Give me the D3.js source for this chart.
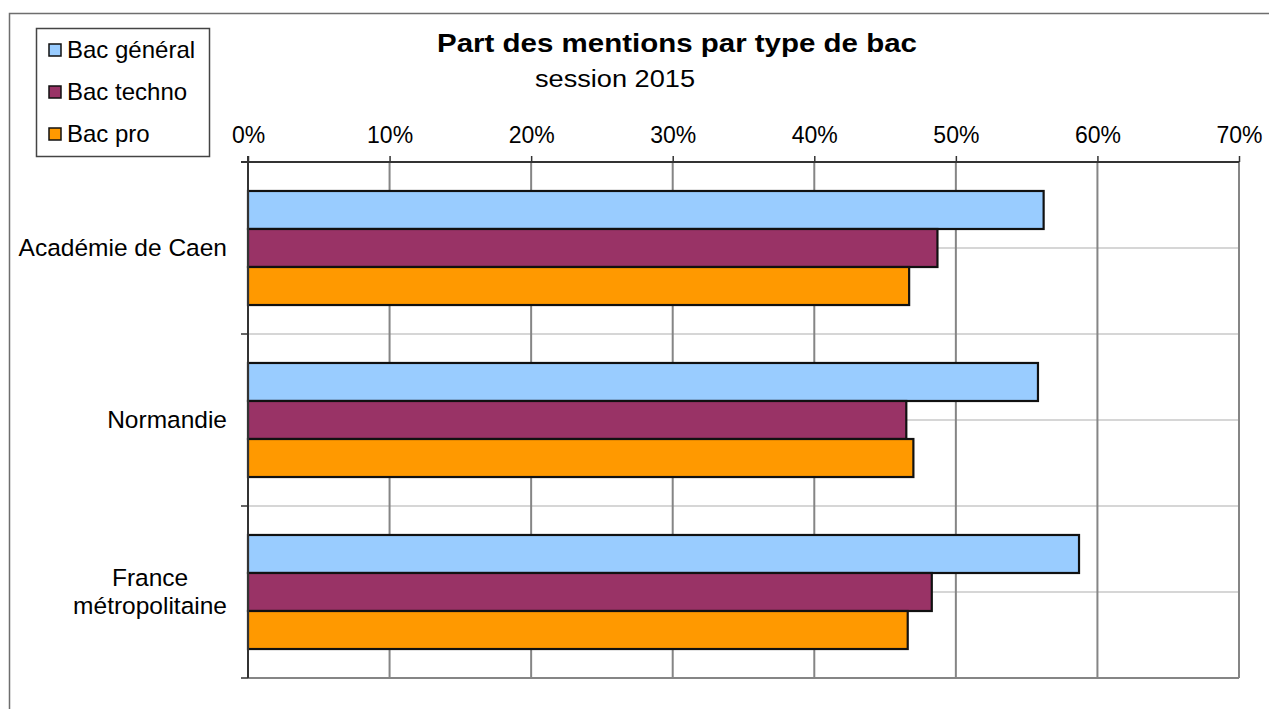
<!DOCTYPE html>
<html>
<head>
<meta charset="utf-8">
<script src="https://cdn.jsdelivr.net/npm/d3@7"></script>
<style>
  body { margin: 0; background: #fff; }
  svg { display: block; font-family: Arial, 'Liberation Sans', sans-serif; }
</style>
</head>
<body>
<div id="chart"></div>
<script>
const categories = ['Académie de Caen', 'Normandie', 'France\nmétropolitaine'];
const seriesNames = ['Bac général', 'Bac techno', 'Bac pro'];
const seriesColors = ['#99CCFF', '#993366', '#FF9900'];
const bacGeneral = [56.2, 55.8, 58.7];
const bacTechno = [48.7, 46.5, 48.3];
const bacPro = [46.7, 47.0, 46.6];
const tickValues = [0, 10, 20, 30, 40, 50, 60, 70];

const cfg = {
  width: 1269,
  height: 709,
  left: 248,
  top: 162,
  right: 1239,
  bottom: 678,
};

const seriesValues = [bacGeneral, bacTechno, bacPro];
const rows = categories.map((c, i) => ({
  cat: c,
  values: seriesNames.map((s, j) => ({ series: s, value: seriesValues[j][i], color: seriesColors[j] })),
}));

const svg = d3.select('#chart').append('svg')
  .attr('width', cfg.width)
  .attr('height', cfg.height);

svg.append('rect').attr('width', cfg.width).attr('height', cfg.height).attr('fill', '#fff');

// outer chart frame (only top and left are in view)
svg.append('rect')
  .attr('x', 9.5).attr('y', 13.5)
  .attr('width', cfg.width + 20).attr('height', cfg.height + 20)
  .attr('fill', 'none')
  .attr('stroke', '#6e6e6e')
  .attr('stroke-width', 1.5);

const x = d3.scaleLinear().domain([0, 70]).range([cfg.left, cfg.right]);
const y = d3.scaleBand().domain(categories).range([cfg.top, cfg.bottom])
  .paddingInner(0.337).paddingOuter(0.1685);
const yInner = d3.scaleBand().domain(seriesNames).range([0, y.bandwidth()]);

// horizontal light grid lines, every half category
const step = y.step();
const hGrid = d3.range(1, categories.length * 2).map(k => cfg.top + k * step / 2);
svg.append('g').selectAll('line')
  .data(hGrid).enter().append('line')
  .attr('x1', cfg.left).attr('x2', cfg.right)
  .attr('y1', d => d).attr('y2', d => d)
  .style('stroke', '#c8c8c8')
  .style('stroke-width', 1.5);

// vertical grid lines
svg.append('g').selectAll('line')
  .data(tickValues.slice(1)).enter().append('line')
  .attr('x1', d => x(d)).attr('x2', d => x(d))
  .attr('y1', cfg.top).attr('y2', cfg.bottom)
  .style('stroke', '#858585')
  .style('stroke-width', 2);

// bottom border of plot area
svg.append('line')
  .attr('x1', cfg.left).attr('x2', cfg.right)
  .attr('y1', cfg.bottom).attr('y2', cfg.bottom)
  .style('stroke', '#858585')
  .style('stroke-width', 2);

// bars
const groups = svg.append('g').selectAll('g')
  .data(rows).enter().append('g')
  .attr('transform', d => `translate(0,${y(d.cat)})`);

groups.selectAll('rect')
  .data(d => d.values).enter().append('rect')
  .attr('x', x(0))
  .attr('y', d => yInner(d.series))
  .attr('width', d => x(d.value) - x(0))
  .attr('height', yInner.bandwidth())
  .style('fill', d => d.color)
  .style('stroke', '#111')
  .style('stroke-width', 2.2);

// top value axis
const xAxis = d3.axisTop(x)
  .tickValues(tickValues)
  .tickFormat(d => `${d}%`)
  .tickSizeInner(6)
  .tickSizeOuter(0)
  .tickPadding(13);

const gx = svg.append('g')
  .attr('transform', `translate(0,${cfg.top})`)
  .call(xAxis);
gx.select('.domain').remove();
gx.append('line')
  .attr('x1', cfg.left - 7).attr('x2', cfg.right)
  .attr('y1', 0).attr('y2', 0)
  .style('stroke', '#333').style('stroke-width', 2);
gx.selectAll('.tick line').style('stroke', '#333').style('stroke-width', 1.5);
gx.selectAll('.tick text')
  .style('font-size', '23px')
  .style('fill', '#000')
  .style('font-family', 'Arial, Liberation Sans, sans-serif');

// left category axis
svg.append('line')
  .attr('x1', cfg.left).attr('x2', cfg.left)
  .attr('y1', cfg.top - 6).attr('y2', cfg.bottom)
  .style('stroke', '#333').style('stroke-width', 2);

const catTicks = d3.range(0, categories.length + 1).map(k => cfg.top + k * step);
svg.append('g').selectAll('line')
  .data(catTicks).enter().append('line')
  .attr('x1', cfg.left - 7).attr('x2', cfg.left)
  .attr('y1', d => d).attr('y2', d => d)
  .style('stroke', '#333').style('stroke-width', 1.5);

// category labels, block right aligned, lines centred
const labelRight = 227;
const lineH = 28;
svg.append('g').selectAll('text')
  .data(categories).enter().append('text')
  .style('font-size', '24.5px')
  .style('fill', '#000')
  .each(function (d) {
    const lines = d.split('\n');
    const t = d3.select(this);
    const cy = y(d) + y.bandwidth() / 2;
    const y0 = cy - (lines.length - 1) * lineH / 2 + 8;
    lines.forEach((ln, i) => {
      t.append('tspan').attr('y', y0 + i * lineH).text(ln);
    });
    let maxW = 0;
    t.selectAll('tspan').each(function () {
      maxW = Math.max(maxW, this.getComputedTextLength());
    });
    t.attr('text-anchor', 'middle');
    t.selectAll('tspan').attr('x', labelRight - maxW / 2);
  });

// title
svg.append('text')
  .attr('x', 677).attr('y', 52)
  .attr('text-anchor', 'middle')
  .style('font-size', '26px')
  .style('font-weight', 'bold')
  .attr('textLength', 480)
  .attr('lengthAdjust', 'spacingAndGlyphs')
  .text('Part des mentions par type de bac');

svg.append('text')
  .attr('x', 615).attr('y', 87)
  .attr('text-anchor', 'middle')
  .style('font-size', '23px')
  .attr('textLength', 160)
  .attr('lengthAdjust', 'spacingAndGlyphs')
  .text('session 2015');

// legend
const legend = svg.append('g');
legend.append('rect')
  .attr('x', 36.5).attr('y', 28.5)
  .attr('width', 173).attr('height', 128)
  .attr('fill', '#fff')
  .attr('stroke', '#444')
  .attr('stroke-width', 1.5);

const ly = d3.scalePoint().domain(seriesNames).range([50, 134]);
const items = legend.selectAll('g.item')
  .data(seriesNames).enter().append('g')
  .attr('class', 'item')
  .attr('transform', d => `translate(0,${ly(d)})`);
items.append('rect')
  .attr('x', 49).attr('y', -6)
  .attr('width', 12).attr('height', 12)
  .style('fill', (d, i) => seriesColors[i])
  .style('stroke', '#111')
  .style('stroke-width', 1.5);
items.append('text')
  .attr('x', 67).attr('y', 8)
  .style('font-size', '24px')
  .text(d => d);
</script>
</body>
</html>
